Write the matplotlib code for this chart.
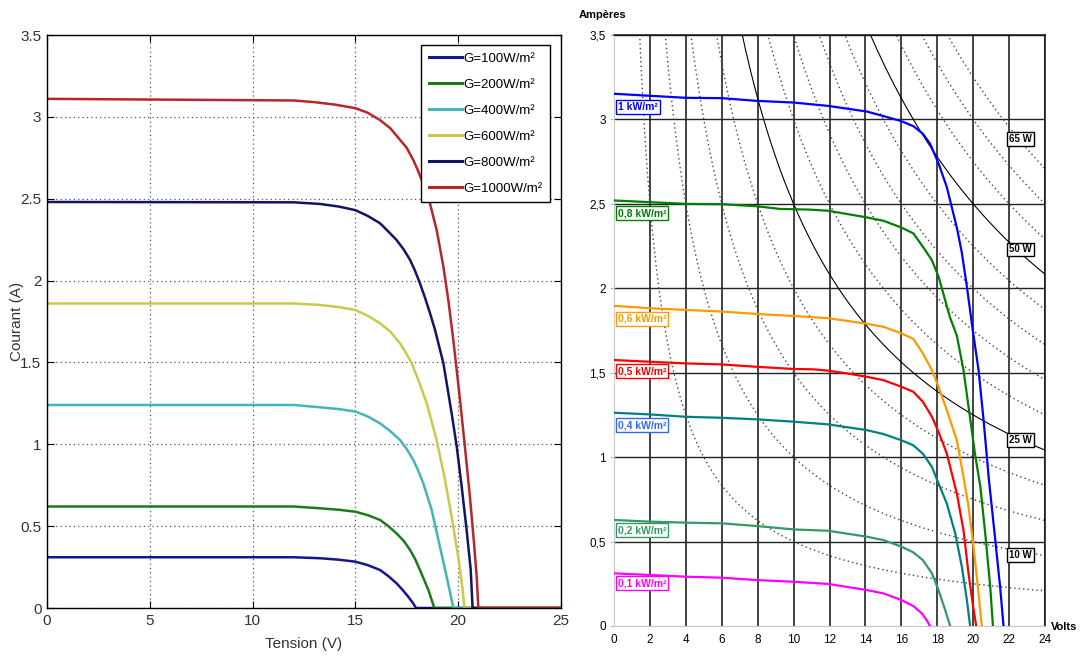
import numpy as np
import matplotlib
matplotlib.use("Agg")
import matplotlib.pyplot as plt

# ---- left panel : simulated I-V curves ----
left_labels = ["G=100W/m²", "G=200W/m²", "G=400W/m²", "G=600W/m²", "G=800W/m²", "G=1000W/m²"]
left_colors = ["#16168a", "#1d7a1d", "#45b5b8", "#c9c94a", "#141466", "#b3282b"]

v100 = [0, 12, 13.28, 14.2, 15, 15.6, 16.2, 16.6, 17.0, 17.3, 17.57, 17.8, 17.95, 25]
i100 = [0.31, 0.31, 0.304, 0.295, 0.283, 0.262, 0.232, 0.195, 0.151, 0.11, 0.069, 0.03, 0, 0]
v200 = [0, 12, 13.28, 14.2, 15, 15.6, 16.2, 16.6, 17.0, 17.35, 17.66, 17.9, 18.14, 18.35, 18.55, 18.84, 25]
i200 = [0.62, 0.62, 0.609, 0.60, 0.588, 0.567, 0.538, 0.50, 0.456, 0.41, 0.354, 0.30, 0.232, 0.17, 0.11, 0, 0]
v400 = [0, 12, 13.28, 14.2, 15, 15.6, 16.2, 16.7, 17.17, 17.5, 17.82, 18.05, 18.3, 18.71, 19.11, 19.44, 19.68, 19.76, 25]
i400 = [1.24, 1.24, 1.226, 1.215, 1.20, 1.17, 1.128, 1.08, 1.026, 0.97, 0.904, 0.84, 0.762, 0.599, 0.375, 0.19, 0.05, 0, 0]
v600 = [0, 12, 13.28, 14.2, 15, 15.6, 16.2, 16.68, 17.17, 17.45, 17.74, 18.1, 18.47, 18.95, 19.36, 19.68, 20.0, 20.22, 20.3, 25]
i600 = [1.86, 1.86, 1.851, 1.838, 1.82, 1.785, 1.739, 1.69, 1.617, 1.56, 1.495, 1.38, 1.25, 1.026, 0.782, 0.558, 0.313, 0.11, 0, 0]
v800 = [0, 12, 13.28, 14.2, 15, 15.6, 16.2, 16.6, 17.0, 17.35, 17.66, 17.9, 18.14, 18.4, 18.63, 18.87, 19.28, 19.68, 19.93, 20.17, 20.41, 20.61, 20.7, 25]
i800 = [2.48, 2.478, 2.468, 2.452, 2.43, 2.395, 2.35, 2.30, 2.248, 2.19, 2.126, 2.06, 1.983, 1.89, 1.80, 1.70, 1.495, 1.19, 0.985, 0.741, 0.476, 0.232, 0, 0]
v1000 = [0, 12, 13, 14, 15, 15.6, 16.2, 16.7, 17.17, 17.5, 17.82, 18.05, 18.3, 18.63, 18.95, 19.28, 19.52, 19.76, 20.09, 20.33, 20.57, 20.77, 20.9, 20.98, 25]
i1000 = [3.11, 3.10, 3.09, 3.075, 3.053, 3.025, 2.98, 2.93, 2.86, 2.81, 2.735, 2.67, 2.59, 2.47, 2.31, 2.085, 1.88, 1.64, 1.27, 0.98, 0.68, 0.395, 0.19, 0, 0]
left_v = [v100, v200, v400, v600, v800, v1000]
left_i = [i100, i200, i400, i600, i800, i1000]
left_yticks = [0, 0.5, 1, 1.5, 2, 2.5, 3, 3.5]
left_ytlabels = ["0", "0.5", "1", "1.5", "2", "2.5", "3", "3.5"]
left_xticks = [0, 5, 10, 15, 20, 25]

# ---- right panel : datasheet I-V curves ----
right_labels = ["1 kW/m²", "0,8 kW/m²", "0,6 kW/m²", "0,5 kW/m²", "0,4 kW/m²", "0,2 kW/m²", "0,1 kW/m²"]
right_colors = ["#0000ff", "#008000", "#ff9900", "#ff0000", "#008080", "#339966", "#ff00ff"]
right_text_colors = ["#0000ff", "#008000", "#ff9900", "#ff0000", "#3366ff", "#339966", "#ff00ff"]
right_label_y = [3.075, 2.445, 1.82, 1.51, 1.19, 0.568, 0.253]

r_v10 = [0, 2, 4, 6, 7.94, 10, 11.93, 14.07, 15, 16, 16.67, 17.2, 17.6, 18.07, 18.53, 19.09, 19.37, 19.65, 19.98, 20.3, 20.58, 20.86, 21.23, 21.5, 21.69]
r_i10 = [3.152, 3.14, 3.128, 3.126, 3.11, 3.10, 3.08, 3.047, 3.02, 2.99, 2.96, 2.915, 2.856, 2.74, 2.60, 2.36, 2.21, 2.01, 1.75, 1.516, 1.22, 0.884, 0.51, 0.233, 0]
r_v08 = [0, 2, 4, 6, 7.94, 9.24, 10.9, 11.93, 14.07, 15, 16, 16.67, 17.2, 17.7, 18.07, 18.44, 18.7, 19.09, 19.46, 19.74, 20.1, 20.4, 20.67, 20.95, 21.1]
r_i08 = [2.52, 2.51, 2.50, 2.498, 2.486, 2.47, 2.466, 2.459, 2.42, 2.40, 2.36, 2.325, 2.246, 2.167, 2.07, 1.93, 1.83, 1.72, 1.516, 1.30, 1.02, 0.825, 0.55, 0.233, 0]
r_v06 = [0, 2, 4, 6, 7.94, 10, 11.93, 14.07, 15, 16, 16.67, 17.2, 17.7, 18.07, 18.53, 19.09, 19.46, 19.74, 20.0, 20.26, 20.48]
r_i06 = [1.896, 1.882, 1.872, 1.862, 1.848, 1.836, 1.823, 1.79, 1.772, 1.733, 1.70, 1.614, 1.516, 1.417, 1.279, 1.10, 0.884, 0.707, 0.49, 0.233, 0]
r_v05 = [0, 2, 4, 6, 7.94, 10, 11.1, 11.93, 12.96, 14.07, 15, 16, 16.67, 17.2, 17.7, 18.07, 18.53, 19.09, 19.46, 19.74, 20.0, 20.17]
r_i05 = [1.575, 1.565, 1.555, 1.549, 1.535, 1.522, 1.52, 1.512, 1.496, 1.476, 1.456, 1.417, 1.387, 1.328, 1.24, 1.15, 1.022, 0.785, 0.568, 0.312, 0.114, 0]
r_v04 = [0, 2, 4, 6, 7.94, 10, 11.93, 14.07, 15, 16, 16.67, 17.2, 17.7, 18.07, 18.53, 19.0, 19.37, 19.65, 19.83]
r_i04 = [1.263, 1.253, 1.239, 1.233, 1.224, 1.21, 1.194, 1.16, 1.137, 1.10, 1.07, 1.02, 0.943, 0.845, 0.726, 0.549, 0.351, 0.154, 0]
r_v02 = [0, 2, 4, 6, 7.94, 10, 11.93, 14.07, 15, 16, 16.67, 17.2, 17.7, 18.07, 18.44, 18.72]
r_i02 = [0.628, 0.618, 0.612, 0.608, 0.592, 0.572, 0.564, 0.529, 0.509, 0.47, 0.436, 0.39, 0.312, 0.213, 0.095, 0]
r_v01 = [0, 2, 4, 6, 7.94, 10, 11.93, 14.07, 15, 16, 16.67, 17.14, 17.4, 17.6]
r_i01 = [0.312, 0.302, 0.292, 0.286, 0.272, 0.262, 0.249, 0.213, 0.193, 0.154, 0.118, 0.075, 0.036, 0]
right_v = [r_v10, r_v08, r_v06, r_v05, r_v04, r_v02, r_v01]
right_i = [r_i10, r_i08, r_i06, r_i05, r_i04, r_i02, r_i01]

# iso-power lines (W); solid ones at 25 and 50
power_levels = [5, 10, 15, 20, 25, 30, 35, 40, 45, 50, 55, 60, 65]
power_solid = [25, 50]
power_labels = ["65 W", "50 W", "25 W", "10 W"]
power_label_y = [2.886, 2.23, 1.10, 0.42]

right_yticks = [0, 0.5, 1, 1.5, 2, 2.5, 3, 3.5]
right_ytlabels = ["0", "0,5", "1", "1,5", "2", "2,5", "3", "3,5"]
right_xticks = list(range(0, 25, 2))

fig = plt.figure(figsize=(10.81, 6.57), dpi=100)
narrow = ["DejaVu Sans Condensed", "Liberation Sans", "DejaVu Sans"]
arial = ["Liberation Sans", "DejaVu Sans"]

# ---------------- left ----------------
ax1 = fig.add_axes([47 / 1081, 1 - 608 / 657, (561 - 47) / 1081, (608 - 35) / 657])
for v, i, c, lab in zip(left_v, left_i, left_colors, left_labels):
    ax1.plot(v, i, color=c, lw=1.8, label=lab, solid_joinstyle="round")
ax1.set_xlim(0, 25)
ax1.set_ylim(0, 3.5)
ax1.set_xticks(left_xticks)
ax1.set_yticks(left_yticks)
ax1.set_yticklabels(left_ytlabels)
ax1.grid(True, ls=(0, (1, 2.5)), color="#555555", lw=0.9)
ax1.tick_params(direction="in", top=True, right=True, length=5, labelsize=11, pad=4)
for t in ax1.get_xticklabels() + ax1.get_yticklabels():
    t.set_family(narrow)
    t.set_stretch("condensed")
    t.set_color("#333333")
for s in ax1.spines.values():
    s.set_linewidth(1.0)
ax1.set_xlabel("Tension (V)", family=narrow, stretch="condensed", fontsize=11, color="#333333", labelpad=7)
ax1.set_ylabel("Courant (A)", family=arial, fontsize=11, color="#333333")
ax1.yaxis.set_label_coords(-0.045, 0.5)
leg = ax1.legend(loc="upper right", bbox_to_anchor=(0.9786, 0.9825), borderaxespad=0,
                 fancybox=False, edgecolor="black", framealpha=1, handlelength=2.5,
                 labelspacing=1.05, handletextpad=0.15, borderpad=0.55,
                 prop={"family": narrow, "size": 9.5, "stretch": "condensed"})
leg.get_frame().set_linewidth(1.0)
for h in leg.get_lines():
    h.set_linewidth(2.2)

# ---------------- right ----------------
ax2 = fig.add_axes([614 / 1081, 1 - 626 / 657, (1045 - 614) / 1081, (626 - 35) / 657])
ax2.set_xlim(0, 24)
ax2.set_ylim(0, 3.5)
for x in right_xticks[1:]:
    ax2.axvline(x, color="#111111", lw=1.1, zorder=1)
for y in right_yticks[1:]:
    ax2.axhline(y, color="#222222", lw=1.0, zorder=1)

vv = np.linspace(0.5, 24, 600)
for p in power_levels:
    if p in power_solid:
        ax2.plot(vv, p / vv, color="black", lw=0.8, zorder=2)
    else:
        ax2.plot(vv, p / vv, color="#444444", lw=1.0, ls=(0, (1, 2.2)), zorder=2)

for v, i, c in zip(right_v, right_i, right_colors):
    ax2.plot(v, i, color=c, lw=1.6, zorder=3)

for lab, y, tc in zip(right_labels, right_label_y, right_text_colors):
    ax2.text(0.2, y, lab, color=tc, fontsize=7.5, fontweight="bold", family=arial,
             ha="left", va="center", zorder=5,
             bbox=dict(boxstyle="square,pad=0.2", fc="white", ec=tc, lw=1.0))
for lab, y in zip(power_labels, power_label_y):
    ax2.text(22.0, y, lab, color="black", fontsize=7, fontweight="bold", family=arial,
             ha="left", va="center", zorder=5,
             bbox=dict(boxstyle="square,pad=0.2", fc="white", ec="black", lw=1.0))

ax2.set_xticks(right_xticks)
ax2.set_yticks(right_yticks)
ax2.set_yticklabels(right_ytlabels)
ax2.tick_params(axis="x", length=0, pad=6, labelsize=8.5)
ax2.tick_params(axis="y", length=3, color="#bbbbbb", pad=3, labelsize=8.5)
for t in ax2.get_xticklabels() + ax2.get_yticklabels():
    t.set_family(arial)
for side in ["left", "bottom"]:
    ax2.spines[side].set_color("#c8c8c8")
for side in ["top", "right"]:
    ax2.spines[side].set_color("#111111")
    ax2.spines[side].set_linewidth(1.1)

fig.text(579 / 1081, 1 - 15 / 657, "Ampères", fontsize=8, fontweight="bold", family=arial,
         ha="left", va="center")
fig.text(1051 / 1081, 1 - 627 / 657, "Volts", fontsize=8, fontweight="bold", family=arial,
         ha="left", va="center")

fig.savefig("out.png", dpi=100)
